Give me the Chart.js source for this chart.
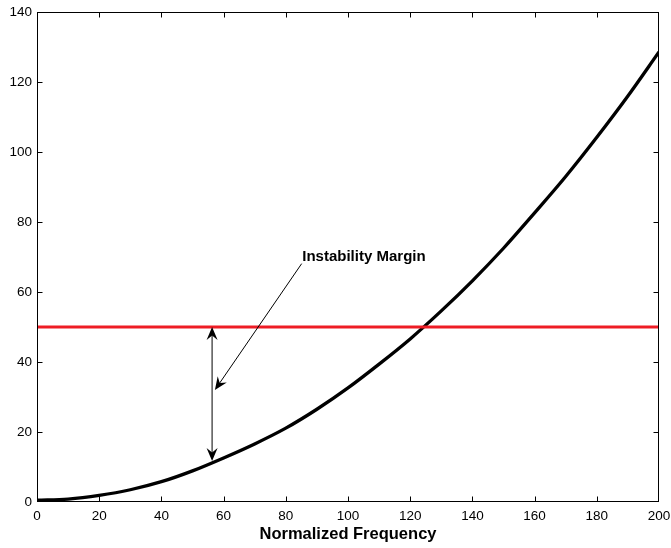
<!DOCTYPE html>
<html>
<head>
<meta charset="utf-8">
<script src="https://cdn.jsdelivr.net/npm/chart.js@4.4.0/dist/chart.umd.min.js"></script>
<style>
    html, body { margin: 0; padding: 0; background: #fff; }
    #wrap { width: 671px; height: 548px; }
</style>
</head>
<body>
<div id="wrap"><canvas id="myChart" width="671" height="548"></canvas></div>
<script>
// Values
const freq = [0, 10, 20, 30, 40, 50, 60, 70, 80, 90, 100, 110, 120, 130, 140, 150, 160, 170, 180, 190, 200];
const response = [0.5, 0.85, 1.9, 3.5, 5.8, 8.9, 12.6, 16.6, 21.1, 26.5, 32.6, 39.4, 46.6, 54.6, 63.2, 72.5, 82.6, 93.0, 104.2, 116.0, 128.6];
const limitX = [0, 200];
const limitY = [50, 50];
const xTicks = [0, 20, 40, 60, 80, 100, 120, 140, 160, 180, 200];
const yTicks = [0, 20, 40, 60, 80, 100, 120, 140];

// annotation: double arrow between the limit and the curve, plus the pointer
const marginX = 56.3;
const marginY = [50, 11.7];
const pointerFrom = [85.1, 68.1];
const pointerTo = [57.2, 32.0];
const labelText = 'Instability Margin';
const labelAt = [85.3, 68.8];

const toPoints = (xs, ys) => xs.map((x, i) => ({ x: x, y: ys[i] }));

// filled chevron arrowhead, tip at (x, y), pointing along angle
const drawHead = (ctx, x, y, angle) => {
    const len = 13, half = 5.5, notch = 8.5;
    ctx.save();
    ctx.translate(x, y);
    ctx.rotate(angle);
    ctx.beginPath();
    ctx.moveTo(0, 0);
    ctx.lineTo(-len, -half);
    ctx.lineTo(-notch, 0);
    ctx.lineTo(-len, half);
    ctx.closePath();
    ctx.fill();
    ctx.restore();
};

const framePlugin = {
    id: 'frame',
    afterDatasetsDraw(chart) {
        const ctx = chart.ctx;
        const a = chart.chartArea;
        const xs = chart.scales.x, ys = chart.scales.y;
        ctx.save();
        ctx.strokeStyle = '#000';
        ctx.lineWidth = 1;
        const L = Math.round(a.left) + 0.5, R = Math.round(a.right) - 0.5;
        const T = Math.round(a.top) + 0.5, B = Math.round(a.bottom) - 0.5;
        ctx.strokeRect(L, T, R - L, B - T);
        // inner ticks on all four sides
        const tl = 5;
        ctx.beginPath();
        xTicks.slice(1, -1).forEach(v => {
            const px = Math.round(xs.getPixelForValue(v)) + 0.5;
            ctx.moveTo(px, B); ctx.lineTo(px, B - tl);
            ctx.moveTo(px, T); ctx.lineTo(px, T + tl);
        });
        yTicks.slice(1, -1).forEach(v => {
            const py = Math.round(ys.getPixelForValue(v)) + 0.5;
            ctx.moveTo(L, py); ctx.lineTo(L + tl, py);
            ctx.moveTo(R, py); ctx.lineTo(R - tl, py);
        });
        ctx.stroke();

        // double arrow
        ctx.fillStyle = '#000';
        const mx = xs.getPixelForValue(marginX);
        const my0 = ys.getPixelForValue(marginY[0]);
        const my1 = ys.getPixelForValue(marginY[1]);
        ctx.beginPath();
        ctx.moveTo(mx, my0 + 6);
        ctx.lineTo(mx, my1 - 6);
        ctx.stroke();
        drawHead(ctx, mx, my0, -Math.PI / 2);
        drawHead(ctx, mx, my1, Math.PI / 2);

        // pointer from label
        const fx = xs.getPixelForValue(pointerFrom[0]), fy = ys.getPixelForValue(pointerFrom[1]);
        const tx = xs.getPixelForValue(pointerTo[0]), ty = ys.getPixelForValue(pointerTo[1]);
        const ang = Math.atan2(ty - fy, tx - fx);
        ctx.beginPath();
        ctx.moveTo(fx, fy);
        ctx.lineTo(tx - 7 * Math.cos(ang), ty - 7 * Math.sin(ang));
        ctx.stroke();
        drawHead(ctx, tx, ty, ang);

        // label
        ctx.font = 'bold 15px "Liberation Sans", Arial, sans-serif';
        ctx.textAlign = 'left';
        ctx.textBaseline = 'alphabetic';
        ctx.fillText(labelText, xs.getPixelForValue(labelAt[0]), ys.getPixelForValue(labelAt[1]));
        ctx.restore();
    }
};

const ctx = document.getElementById('myChart').getContext('2d');

let myChart = new Chart(ctx, {
    type: 'line',
    data: {
        datasets: [{
            label: 'Limit',
            data: toPoints(limitX, limitY),
            borderColor: '#ee1c25',
            borderWidth: 3,
            pointRadius: 0,
            fill: false
        }, {
            label: 'Response',
            data: toPoints(freq, response),
            borderColor: '#000',
            borderWidth: 3.3,
            pointRadius: 0,
            cubicInterpolationMode: 'monotone',
            fill: false
        }]
    },
    options: {
        responsive: false,
        animation: false,
        layout: {
            padding: { top: 12, right: 12, left: 0, bottom: 0 }
        },
        plugins: {
            legend: { display: false },
            tooltip: { enabled: false }
        },
        scales: {
            x: {
                type: 'linear',
                min: 0,
                max: 200,
                afterFit: (scale) => {
                    scale.height = 46;
                    scale.paddingLeft = 0;
                    scale.paddingRight = 0;
                },
                afterBuildTicks: (scale) => { scale.ticks = xTicks.map(v => ({ value: v })); },
                grid: { display: false, drawTicks: false },
                border: { display: false },
                ticks: {
                    color: '#000',
                    padding: 6,
                    maxRotation: 0,
                    font: { size: 13.5, family: '"Liberation Sans", Arial, sans-serif' }
                },
                title: {
                    display: true,
                    text: 'Normalized Frequency',
                    color: '#000',
                    padding: { top: 0, bottom: 4 },
                    font: { size: 16.5, weight: 'bold', family: '"Liberation Sans", Arial, sans-serif' }
                }
            },
            y: {
                type: 'linear',
                min: 0,
                max: 140,
                afterFit: (scale) => {
                    scale.width = 37;
                    scale.paddingTop = 0;
                    scale.paddingBottom = 0;
                },
                afterBuildTicks: (scale) => { scale.ticks = yTicks.map(v => ({ value: v })); },
                grid: { display: false, drawTicks: false },
                border: { display: false },
                ticks: {
                    color: '#000',
                    padding: 5,
                    font: { size: 13.5, family: '"Liberation Sans", Arial, sans-serif' }
                }
            }
        }
    },
    plugins: [framePlugin]
});
</script>
</body>
</html>
